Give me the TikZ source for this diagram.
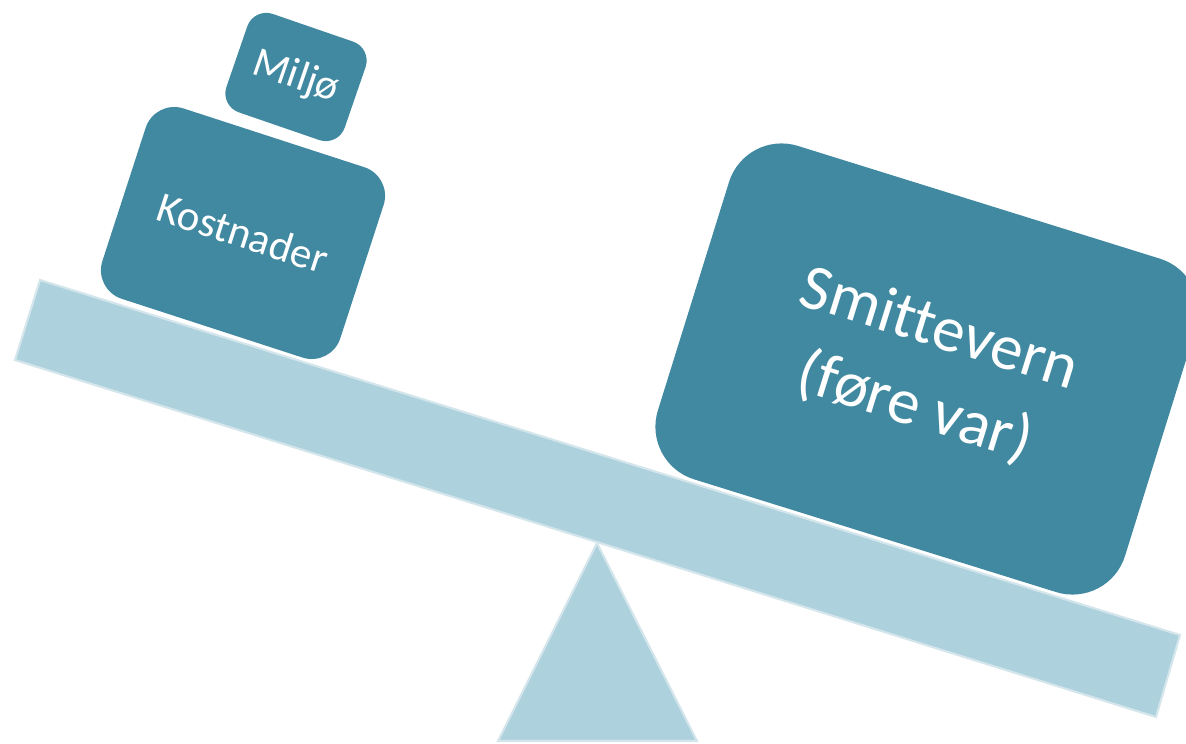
\documentclass[tikz,border=0pt]{standalone}
\usepackage{fontspec}
\setmainfont{Carlito}[Ligatures=NoCommon]
\definecolor{weightblue}{RGB}{64,137,160}
\definecolor{plankblue}{RGB}{173,210,221}
\definecolor{plankedge}{RGB}{212,230,236}

\begin{document}
\begin{tikzpicture}[x=0.01cm,y=-0.01cm,
    weight/.style={fill=weightblue,text=white,inner sep=0pt,rounded corners=0.3cm},
    plank/.style={fill=plankblue,draw=plankedge,line width=0.6pt}]
                \clip (0,0) rectangle (1186,743);
                % beam
                \coordinate (bTL) at (40,280);
                \coordinate (bTR) at (1180,635);
                \coordinate (bBR) at (1156,717);
                \coordinate (bBL) at (15,360);
                % fulcrum
                \coordinate (fTop) at (597,543);
                \coordinate (fR) at (697,741);
                \coordinate (fL) at (498,741);
                \draw[plank] (bTL)--(bTR)--(bBR)--(bBL)--cycle;
                \draw[plank] (fTop)--(fR)--(fL)--cycle;
                \node[weight,rotate=-18,minimum width=2.5cm,minimum height=2cm,font=\fontsize{12.2}{15}\selectfont] (kost) at (243,233) {Kostnader};
                \node[weight,rotate=-19,minimum width=1.25cm,minimum height=1.04cm,rounded corners=0.2cm,font=\fontsize{12}{15}\selectfont] (milj) at (296,77) {Miljø};
                \node[weight,rotate=-17.3,minimum width=4.89cm,minimum height=3.49cm,rounded corners=0.55cm,align=center,font=\fontsize{18.4}{23.3}\selectfont] (smitt) at (927,369) {Smittevern\\(føre var)};
            \end{tikzpicture}
\end{document}
